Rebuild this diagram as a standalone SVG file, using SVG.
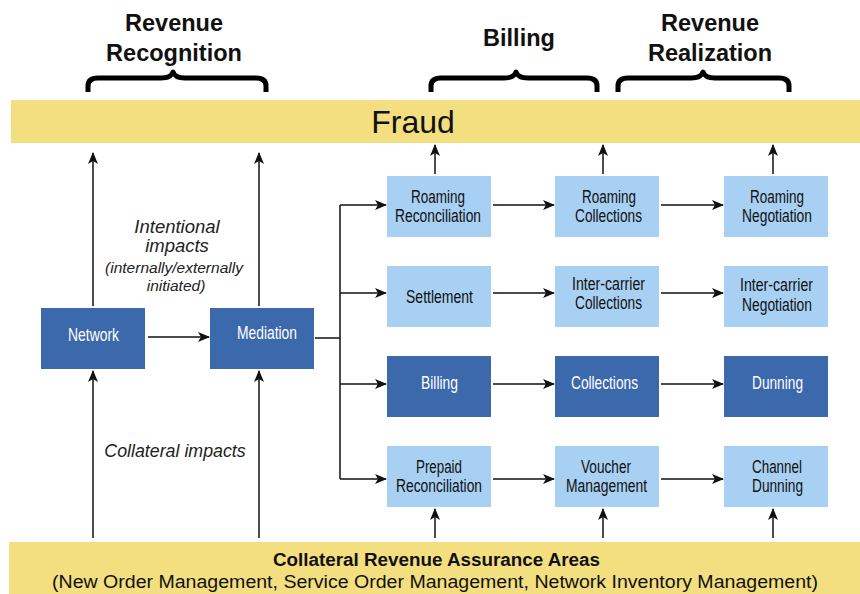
<svg xmlns="http://www.w3.org/2000/svg" width="860" height="594" viewBox="0 0 860 594">
  <style>
    .band { fill: #f3df80; }
    .dark { fill: #3c68ac; }
    .light { fill: #a8d0f2; }
    .lbl { font-family: "Liberation Sans", Arial, sans-serif; font-size: 17.5px; text-anchor: middle; }
    .lbl-dark { fill: #ffffff; }
    .lbl-light { fill: #111111; }
    .head { font-family: "Liberation Sans", Arial, sans-serif; font-size: 23.5px; font-weight: bold; text-anchor: middle; fill: #111; }
    .brace { fill: none; stroke: #000; stroke-width: 5; stroke-linejoin: round; }
    .note { font-family: "Liberation Sans", Arial, sans-serif; font-style: italic; text-anchor: middle; fill: #222; }
    .conn { fill: none; stroke: #111; stroke-width: 1.5; }
    .arr { marker-end: url(#tip); }
  </style>
  <defs>
    <marker id="tip" viewBox="0 0 12 10" refX="11" refY="5" markerWidth="12" markerHeight="10" markerUnits="userSpaceOnUse" orient="auto">
      <path d="M0,0 L12,5 L0,10 L3,5 z" fill="#111"/>
    </marker>
  </defs>

  <!-- section headings with braces -->
  <g id="hdr-recognition">
    <text class="head" x="174" y="31">Revenue</text>
    <text class="head" x="174" y="61">Recognition</text>
    <path class="brace" d="M88,92 V86 Q88,78 98,78 H161 Q171,78 173,72 Q175,78 185,78 H256 Q266,78 266,86 V92"/>
  </g>
  <g id="hdr-billing">
    <text class="head" x="519" y="46">Billing</text>
    <path class="brace" d="M431,92 V86 Q431,78 441,78 H504 Q514,78 516,72 Q518,78 528,78 H587 Q597,78 597,86 V92"/>
  </g>
  <g id="hdr-realization">
    <text class="head" x="710" y="31">Revenue</text>
    <text class="head" x="710" y="61">Realization</text>
    <path class="brace" d="M618,92 V86 Q618,78 628,78 H691 Q701,78 703,72 Q705,78 715,78 H779 Q789,78 789,86 V92"/>
  </g>

  <!-- top band -->
  <g id="fraud">
    <rect class="band" x="11" y="100" width="849" height="43"/>
    <text x="413" y="133" font-family="'Liberation Sans', Arial, sans-serif" font-size="32" text-anchor="middle" fill="#111">Fraud</text>
  </g>

  <!-- bottom band -->
  <g id="collateral">
    <rect class="band" x="9" y="542" width="851" height="52"/>
    <text class="lbl" x="436.5" y="566" font-size="19.5" fill="#111" font-weight="bold" textLength="327" lengthAdjust="spacingAndGlyphs">Collateral Revenue Assurance Areas</text>
    <text class="lbl" x="435" y="588" font-size="20.5" fill="#111" textLength="766" lengthAdjust="spacingAndGlyphs">(New Order Management, Service Order Management, Network Inventory Management)</text>
  </g>

  <!-- free-standing notes -->
  <g id="note-intentional">
    <text class="note" x="177" y="233" font-size="18.5">Intentional</text>
    <text class="note" x="177" y="252" font-size="18.5">impacts</text>
    <text class="note" x="174" y="273" font-size="15.5" fill="#444">(internally/externally</text>
    <text class="note" x="176" y="291" font-size="15.5" fill="#444">initiated)</text>
  </g>
  <g id="note-collateral">
    <text class="note" x="175" y="457" font-size="17.8">Collateral impacts</text>
  </g>

  <!-- connectors -->
  <g id="connectors">
    <!-- Network / Mediation up to Fraud -->
    <line class="conn arr" x1="93" y1="306" x2="93" y2="153"/>
    <line class="conn arr" x1="259" y1="306" x2="259" y2="153"/>
    <!-- collateral up into Network / Mediation -->
    <line class="conn arr" x1="93" y1="538" x2="93" y2="371"/>
    <line class="conn arr" x1="259" y1="538" x2="259" y2="371"/>
    <!-- Network to Mediation -->
    <line class="conn arr" x1="148" y1="337" x2="209" y2="337"/>
    <!-- Mediation fan-out -->
    <polyline class="conn" points="315,338 340,338"/>
    <line class="conn" x1="340" y1="205" x2="340" y2="479"/>
    <line class="conn arr" x1="340" y1="205" x2="386" y2="205"/>
    <line class="conn arr" x1="340" y1="293" x2="386" y2="293"/>
    <line class="conn arr" x1="340" y1="384" x2="386" y2="384"/>
    <line class="conn arr" x1="340" y1="479" x2="386" y2="479"/>
    <!-- row flows -->
    <line class="conn arr" x1="493" y1="205" x2="554" y2="205"/>
    <line class="conn arr" x1="661" y1="205" x2="723" y2="205"/>
    <line class="conn arr" x1="493" y1="293" x2="554" y2="293"/>
    <line class="conn arr" x1="661" y1="293" x2="723" y2="293"/>
    <line class="conn arr" x1="493" y1="384" x2="554" y2="384"/>
    <line class="conn arr" x1="661" y1="384" x2="723" y2="384"/>
    <line class="conn arr" x1="493" y1="479" x2="554" y2="479"/>
    <line class="conn arr" x1="661" y1="479" x2="723" y2="479"/>
    <!-- roaming row up to Fraud -->
    <line class="conn arr" x1="435" y1="174" x2="435" y2="145"/>
    <line class="conn arr" x1="603" y1="174" x2="603" y2="145"/>
    <line class="conn arr" x1="773" y1="174" x2="773" y2="145"/>
    <!-- collateral up into prepaid row -->
    <line class="conn arr" x1="435" y1="538" x2="435" y2="509"/>
    <line class="conn arr" x1="603" y1="538" x2="603" y2="509"/>
    <line class="conn arr" x1="773" y1="538" x2="773" y2="509"/>
  </g>

  <!-- nodes -->
  <g id="network">
    <rect class="dark" x="41" y="308" width="104" height="61"/>
    <text class="lbl lbl-dark" x="93.5" y="341" textLength="51" lengthAdjust="spacingAndGlyphs">Network</text>
  </g>
  <g id="mediation">
    <rect class="dark" x="210" y="308" width="104" height="61"/>
    <text class="lbl lbl-dark" x="267" y="339" textLength="60" lengthAdjust="spacingAndGlyphs">Mediation</text>
  </g>

  <g id="roaming-reconciliation">
    <rect class="light" x="387" y="176" width="104" height="61"/>
    <text class="lbl lbl-light" x="438" y="203" textLength="54" lengthAdjust="spacingAndGlyphs">Roaming</text>
    <text class="lbl lbl-light" x="438" y="222" textLength="86" lengthAdjust="spacingAndGlyphs">Reconciliation</text>
  </g>
  <g id="roaming-collections">
    <rect class="light" x="555" y="176" width="104" height="61"/>
    <text class="lbl lbl-light" x="609" y="203" textLength="54" lengthAdjust="spacingAndGlyphs">Roaming</text>
    <text class="lbl lbl-light" x="608.5" y="222" textLength="67" lengthAdjust="spacingAndGlyphs">Collections</text>
  </g>
  <g id="roaming-negotiation">
    <rect class="light" x="724" y="176" width="104" height="61"/>
    <text class="lbl lbl-light" x="777" y="203" textLength="54" lengthAdjust="spacingAndGlyphs">Roaming</text>
    <text class="lbl lbl-light" x="777" y="222" textLength="70" lengthAdjust="spacingAndGlyphs">Negotiation</text>
  </g>

  <g id="settlement">
    <rect class="light" x="387" y="266" width="104" height="61"/>
    <text class="lbl lbl-light" x="439.5" y="303" textLength="67" lengthAdjust="spacingAndGlyphs">Settlement</text>
  </g>
  <g id="intercarrier-collections">
    <rect class="light" x="555" y="266" width="104" height="61"/>
    <text class="lbl lbl-light" x="608.5" y="290" textLength="73" lengthAdjust="spacingAndGlyphs">Inter-carrier</text>
    <text class="lbl lbl-light" x="608.5" y="309" textLength="67" lengthAdjust="spacingAndGlyphs">Collections</text>
  </g>
  <g id="intercarrier-negotiation">
    <rect class="light" x="724" y="266" width="104" height="61"/>
    <text class="lbl lbl-light" x="776.5" y="291" textLength="73" lengthAdjust="spacingAndGlyphs">Inter-carrier</text>
    <text class="lbl lbl-light" x="777" y="311" textLength="70" lengthAdjust="spacingAndGlyphs">Negotiation</text>
  </g>

  <g id="billing">
    <rect class="dark" x="387" y="356" width="104" height="61"/>
    <text class="lbl lbl-dark" x="439.5" y="389" textLength="37" lengthAdjust="spacingAndGlyphs">Billing</text>
  </g>
  <g id="collections">
    <rect class="dark" x="555" y="356" width="104" height="61"/>
    <text class="lbl lbl-dark" x="604.5" y="389" textLength="67" lengthAdjust="spacingAndGlyphs">Collections</text>
  </g>
  <g id="dunning">
    <rect class="dark" x="724" y="356" width="104" height="61"/>
    <text class="lbl lbl-dark" x="777.5" y="389" textLength="51" lengthAdjust="spacingAndGlyphs">Dunning</text>
  </g>

  <g id="prepaid-reconciliation">
    <rect class="light" x="387" y="446" width="104" height="61"/>
    <text class="lbl lbl-light" x="439" y="473" textLength="46" lengthAdjust="spacingAndGlyphs">Prepaid</text>
    <text class="lbl lbl-light" x="439" y="492" textLength="86" lengthAdjust="spacingAndGlyphs">Reconciliation</text>
  </g>
  <g id="voucher-management">
    <rect class="light" x="555" y="446" width="104" height="61"/>
    <text class="lbl lbl-light" x="606" y="473" textLength="50" lengthAdjust="spacingAndGlyphs">Voucher</text>
    <text class="lbl lbl-light" x="606.5" y="492" textLength="81" lengthAdjust="spacingAndGlyphs">Management</text>
  </g>
  <g id="channel-dunning">
    <rect class="light" x="724" y="446" width="104" height="61"/>
    <text class="lbl lbl-light" x="777" y="473" textLength="50" lengthAdjust="spacingAndGlyphs">Channel</text>
    <text class="lbl lbl-light" x="777.5" y="492" textLength="51" lengthAdjust="spacingAndGlyphs">Dunning</text>
  </g>
</svg>
